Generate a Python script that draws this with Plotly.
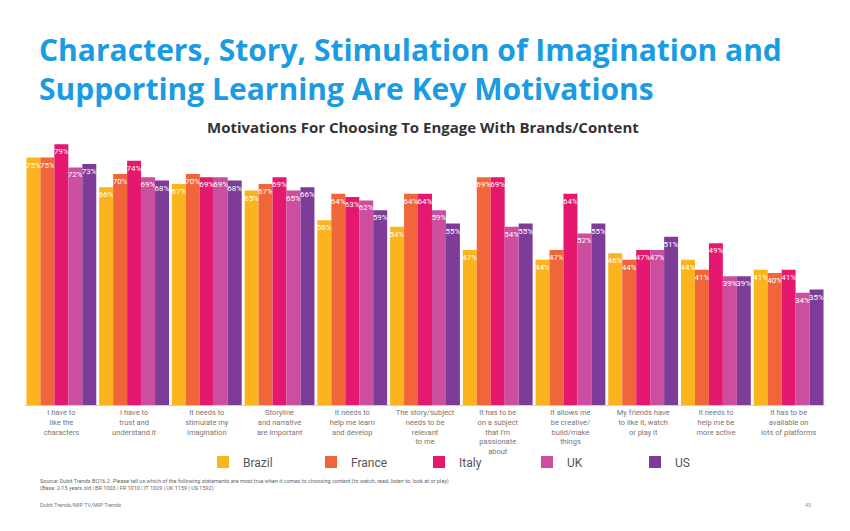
import plotly.graph_objects as go

categories = [
    "I have to<br>like the<br>characters",
    "I have to<br>trust and<br>understand it",
    "It needs to<br>stimulate my<br>imagination",
    "Storyline<br>and narrative<br>are important",
    "It needs to<br>help me learn<br>and develop",
    "The story/subject<br>needs to be<br>relevant<br>to me",
    "It has to be<br>on a subject<br>that I'm<br>passionate<br>about",
    "It allows me<br>be creative/<br>build/make<br>things",
    "My friends have<br>to like it, watch<br>or play it",
    "It needs to<br>help me be<br>more active",
    "It has to be<br>available on<br>lots of platforms",
]
brazil = [75, 66, 67, 65, 56, 54, 47, 44, 46, 44, 41]
france = [75, 70, 70, 67, 64, 64, 69, 47, 44, 41, 40]
italy = [79, 74, 69, 69, 63, 64, 69, 64, 47, 49, 41]
uk = [72, 69, 69, 65, 62, 59, 54, 52, 47, 39, 34]
us = [73, 68, 68, 66, 59, 55, 55, 55, 51, 39, 35]

series = [
    ("Brazil", brazil, "#FBB41E"),
    ("France", france, "#F0663A"),
    ("Italy", italy, "#E5186F"),
    ("UK", uk, "#CC4E9F"),
    ("US", us, "#7D3C98"),
]

fig = go.Figure()
for name, vals, col in series:
    fig.add_trace(go.Bar(
        name=name, x=categories, y=vals, marker_color=col,
        marker_line_width=0,
        text=[f"{v}%" for v in vals], textposition="inside",
        insidetextanchor="end", textangle=0,
        textfont=dict(color="white", size=8, family="Roboto"),
    ))

OFF = 8  # page body margin
W, H = 842, 523
# plot area in page pixels
PX0, PX1, PY0, PY1 = 25, 825, 140, 405
L, R = PX0 - OFF, W - (PX1 - OFF)
T, B = PY0 - OFF, H - (PY1 - OFF)
pw, ph = W - L - R, H - T - B


def px(x):
    return (x - PX0) / pw


def py(y):
    return (PY1 - y) / ph


fig.update_layout(
    width=W, height=H, barmode="group", bargap=0.04, bargroupgap=0.0,
    margin=dict(l=L, r=R, t=T, b=B, autoexpand=False),
    paper_bgcolor="white", plot_bgcolor="white",
    uniformtext=dict(minsize=8, mode="show"),
    showlegend=True,
    legend=dict(orientation="h", x=px(203), y=py(462), xanchor="left", yanchor="middle",
                entrywidth=63, entrywidthmode="pixels", bgcolor="rgba(0,0,0,0)",
                font=dict(size=12, color="#555", family="Roboto"), itemclick=False),
    xaxis=dict(showline=True, linecolor="#cfcfcf", linewidth=1, ticks="",
               tickfont=dict(size=7.5, color="#777", family="Roboto"), tickangle=0,
               range=[-0.5, 10.5], automargin=False),
    yaxis=dict(visible=False, range=[0, ph / 3.3]),
    font=dict(family="Roboto"),
)

fig.add_annotation(
    xref="paper", yref="paper", x=px(37), y=py(69), xanchor="left", yanchor="middle",
    align="left", showarrow=False,
    text="<b>Characters, Story, Stimulation of Imagination and<br>Supporting Learning Are Key Motivations</b>",
    font=dict(size=30, color="#1B9CE2", family="Open Sans"),
)
fig.add_annotation(
    xref="paper", yref="paper", x=px(423), y=py(127), xanchor="center", yanchor="middle",
    showarrow=False, text="<b>Motivations For Choosing To Engage With Brands/Content</b>",
    font=dict(size=15, color="#333", family="Open Sans"),
)
fig.add_annotation(
    xref="paper", yref="paper", x=px(38), y=py(485), xanchor="left", yanchor="middle",
    align="left", showarrow=False,
    text=("Source: Dubit Trends BQ16.2. Please tell us which of the following statements are most true when it comes to choosing content (to watch, read, listen to, look at or play)<br>"
          "(Base: 2-15 years old | BR 1003 | FR 1010 | IT 1029 | UK 1159 | US 1592)"),
    font=dict(size=5.5, color="#666", family="Roboto"),
)
fig.add_annotation(
    xref="paper", yref="paper", x=px(38), y=py(505), xanchor="left", yanchor="middle",
    showarrow=False, text="Dubit Trends/MIP TV/MIP Trends",
    font=dict(size=5.5, color="#777", family="Roboto"),
)
fig.add_annotation(
    xref="paper", yref="paper", x=px(808), y=py(505), xanchor="center", yanchor="middle",
    showarrow=False, text="45", font=dict(size=5.5, color="#999", family="Roboto"),
)

fig.write_html("out.html")
